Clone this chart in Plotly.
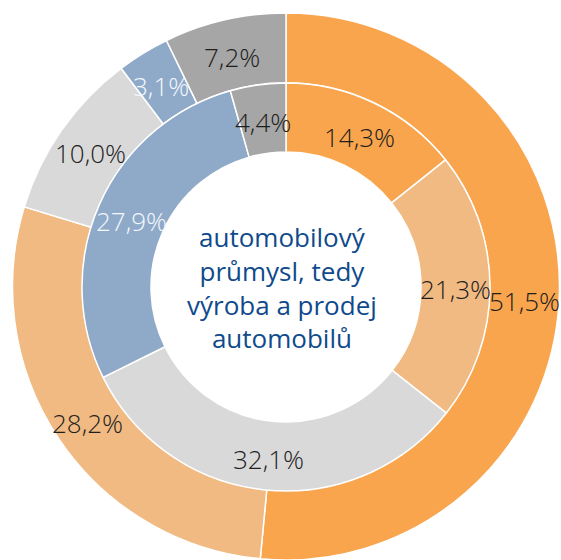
import math
import plotly.graph_objects as go

# Segments (same order in both rings)
segments = ["A", "B", "C", "D", "E"]
outer_values = [51.5, 28.2, 10.0, 3.1, 7.2]
inner_values = [14.3, 21.3, 32.1, 27.9, 4.4]
center_title = "automobilový<br>průmysl, tedy<br>výroba a prodej<br>automobilů"

# Styling
colors = ["#F9A54D", "#F0BA82", "#D9D9D9", "#8FAAC9", "#A6A6A6"]
label_colors = ["#1E1E1E", "#1E1E1E", "#1E1E1E", "#F4F7FB", "#1E1E1E"]
W, H = 561, 560
CX, CY = 286, 287          # ring centre in pixels (from top-left)
R_OUT, R_MID, R_IN = 274, 204, 135


def domain(radius):
    x0 = max(0.0, (CX - radius) / W)
    x1 = min(1.0, (CX + radius) / W)
    yc = H - CY
    y0 = max(0.0, (yc - radius) / H)
    y1 = min(1.0, (yc + radius) / H)
    return dict(x=[x0, x1], y=[y0, y1])


def fmt(v):
    return f"{v:.1f}".replace(".", ",") + "%"


def ring(values, radius, hole):
    return go.Pie(
        labels=segments,
        values=values,
        sort=False,
        direction="clockwise",
        rotation=0,
        hole=hole,
        domain=domain(radius),
        marker=dict(colors=colors, line=dict(color="white", width=1.5)),
        textinfo="none",
        hoverinfo="skip",
        showlegend=False,
    )


fig = go.Figure()
fig.add_trace(ring(outer_values, R_OUT, R_MID / R_OUT))
fig.add_trace(ring(inner_values, R_MID, R_IN / R_MID))

# Percentage labels at the middle of each slice
annotations = []
for values, r_lab in ((outer_values, (R_OUT + R_MID) / 2), (inner_values, (R_MID + R_IN) / 2)):
    total = sum(values)
    cum = 0.0
    for v, tc in zip(values, label_colors):
        theta = 2 * math.pi * (cum + v / 2) / total
        cum += v
        px = CX + r_lab * math.sin(theta)
        py = CY - r_lab * math.cos(theta) + 3
        annotations.append(dict(
            x=px / W, y=1 - py / H, xref="paper", yref="paper",
            text=fmt(v), showarrow=False, xanchor="center", yanchor="middle",
            font=dict(family="Open Sans", size=26, color=tc, weight=300),
        ))

annotations.append(dict(
    x=282 / W, y=1 - 287 / H, xref="paper", yref="paper",
    text=center_title, showarrow=False, xanchor="center", yanchor="middle",
    font=dict(family="Open Sans", size=26, color="#0F4A8C"),
))

fig.update_layout(
    width=W, height=H,
    margin=dict(l=0, r=0, t=0, b=0),
    paper_bgcolor="white",
    plot_bgcolor="white",
    annotations=annotations,
)

fig.write_html("out.html")
